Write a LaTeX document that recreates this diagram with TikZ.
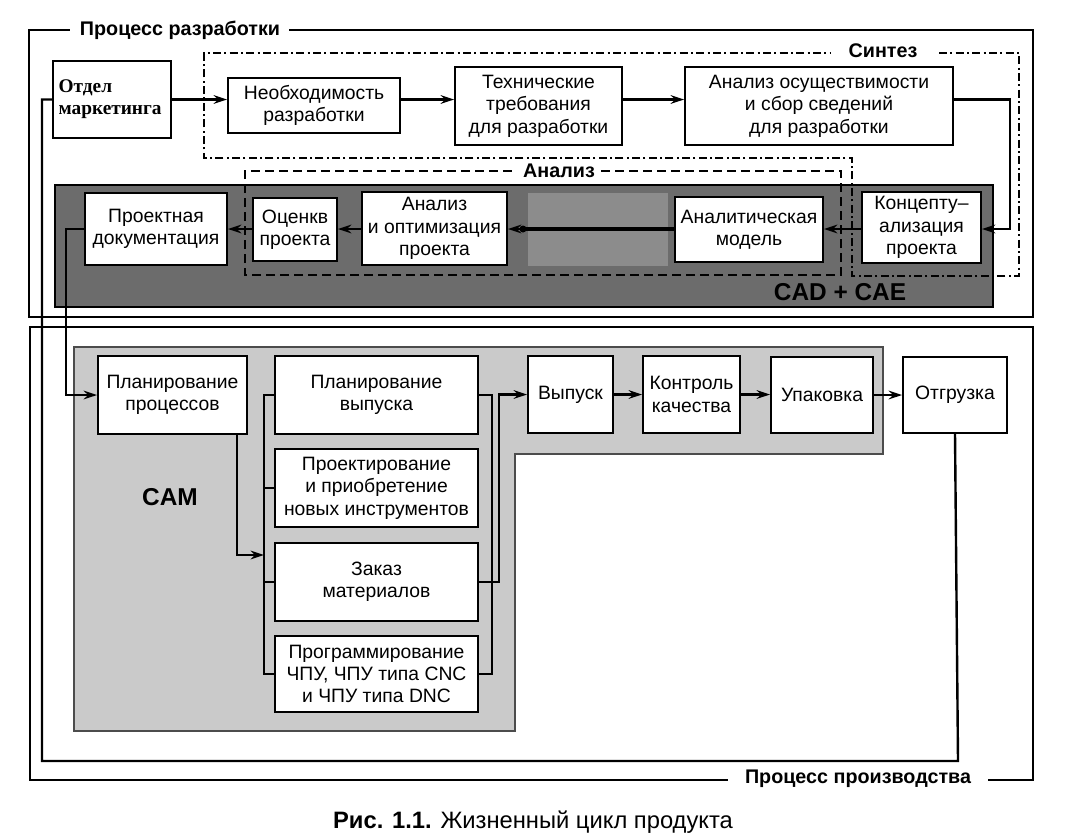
\documentclass[tikz,border=0pt]{standalone}
\usepackage{fontspec}
\setmainfont{Liberation Sans}
\newfontfamily\serifb{Liberation Serif}
\usetikzlibrary{arrows.meta}
\definecolor{cadgray}{RGB}{108,108,108}
\definecolor{camgray}{RGB}{202,202,202}
\definecolor{phgray}{RGB}{140,140,140}
\newcommand\boxfont{\fontsize{14.5pt}{16.8pt}\selectfont}
\newcommand\lblfont{\fontsize{14.8pt}{17pt}\selectfont\bfseries}
\newcommand\bigfont{\fontsize{18.3pt}{20pt}\selectfont\bfseries}
\tikzset{
  box/.style={draw=black, line width=1.4pt, fill=white, align=center, inner sep=2pt, font=\boxfont},
  conn/.style={line width=1.8pt, -{Stealth[length=10pt,width=6.5pt]}},
  wire/.style={line width=1.8pt},
  frame/.style={line width=2.2pt},
  synth/.style={line width=1.5pt, dash pattern=on 6pt off 2.5pt on 1.5pt off 2.5pt},
  anlz/.style={line width=1.5pt, dash pattern=on 7pt off 3.5pt},
  lbl/.style={font=\lblfont, inner sep=0pt},
}
\newcommand\bx[7][]{\node[box,minimum width={(#5-#3)*0.75pt},minimum height={(#6-#4)*0.75pt},#1] (#2) at ({(#3+#5)/2},{(#4+#6)/2}) {#7};}
\begin{document}
\begin{tikzpicture}[x=0.75pt,y=-0.75pt,line join=miter]
\useasboundingbox (0,0) rectangle (1066,839);
% frames
\draw[frame] (289,30) -- (1033,30) -- (1033,317) -- (29,317) -- (29,30) -- (70,30);
\node[lbl] (devlbl) at (180,30) {Процесс разработки};
\draw[frame] (988,780) -- (1033,780) -- (1033,327) -- (30,327) -- (30,780) -- (728,780);
\node[lbl] (prodlbl) at (858,779) {Процесс производства};
% CAD + CAE region
\draw[line width=1.8pt, fill=cadgray] (55,185) rectangle (993,307);
\node[font=\bigfont] (cadlbl) at (840,292) {CAD + CAE};
% CAM region
\draw[line width=1pt, draw=black!70, fill=camgray] (74,347) -- (883,347) -- (883,454) -- (515,454) -- (515,731) -- (74,731) -- cycle;
\node[font=\bigfont] (camlbl) at (170,497) {CAM};
% synthesis and analysis outlines
\draw[synth] (939,53) -- (1019,53) -- (1019,276) -- (852,276) -- (852,158) -- (204,158) -- (204,53) -- (830,53);
\node[lbl] (synlbl) at (883,51) {Синтез};
\draw[anlz] (601,171) -- (841,171) -- (841,275) -- (245,275) -- (245,171) -- (515,171);
\node[lbl] (anllbl) at (559,171) {Анализ};
% boxes, top row
\bx[align=left,text width=80pt,inner xsep=4.2pt,font=\serifb\bfseries\fontsize{14.5pt}{16.5pt}\selectfont]{mark}{53}{61}{171}{138}{Отдел\\маркетинга}
\bx{need}{228}{78}{400}{133}{Необходимость\\разработки}
\bx{tech}{455}{67}{622}{145}{Технические\\требования\\для разработки}
\bx{feas}{685}{67}{953}{145}{Анализ осуществимости\\и сбор сведений\\для разработки}
% second row
\bx{conc}{862}{192}{981}{263}{Концепту–\\ализация\\проекта}
\bx{amod}{675}{197}{823}{262}{Аналитическая\\модель}
\node[fill=phgray, minimum width={140*0.75pt}, minimum height={73*0.75pt}, inner sep=0pt] (ph) at (598,229.5) {};
\bx{anl}{362}{192}{507}{265}{Анализ\\и оптимизация\\проекта}
\bx{est}{253}{198}{337}{261}{Оценкв\\проекта}
\bx{doc}{85}{193}{227}{265}{Проектная\\документация}
% CAM boxes
\bx{pp}{98}{356}{247}{434}{Планирование\\процессов}
\bx{pv}{275}{356}{478}{434}{Планирование\\выпуска}
\bx{pr}{275}{449}{478}{527}{Проектирование\\и приобретение\\новых инструментов}
\bx{zk}{275}{543}{478}{621}{Заказ\\материалов}
\bx{prog}{275}{636}{478}{712}{Программирование\\ЧПУ, ЧПУ типа CNC\\и ЧПУ типа DNC}
\bx{vyp}{528}{356}{613}{433}{Выпуск}
\bx{kk}{643}{356}{740}{433}{Контроль\\качества}
\bx{up}{771}{357}{873}{433}{Упаковка}
\bx{otg}{903}{357}{1007}{433}{Отгрузка}
% coordinates
\coordinate (r1) at (1010,229);
\coordinate (r2) at (0,229);
\coordinate (dotpt) at (523,229);
\coordinate (dl) at (66,229);
\coordinate (loopa) at (958,761);
\coordinate (loopb) at (42,761);
\coordinate (x237) at (237,0);
\coordinate (cl) at (264,0);
\coordinate (cin) at (492,0);
\coordinate (cout) at (499,0);
\coordinate (camin) at (264,555);
% top row connectors
\draw[conn] (mark.east) -- (need.west |- mark.east);
\draw[conn] (need.east |- mark.east) -- (tech.west |- mark.east);
\draw[conn] (tech.east |- mark.east) -- (feas.west |- mark.east);
\draw[conn] (feas.east |- mark.east) -| (r1) -- (conc.east |- r1);
% second row connectors
\draw[conn] (conc.west |- r2) -- (amod.east |- r2);
\draw[conn] (ph.west |- r2) -- (anl.east |- r2);
\draw[line width=2.6pt] (amod.west |- r2) -- (dotpt);
\fill (dotpt) circle (3.5);
\draw[conn] (anl.west |- r2) -- (est.east |- r2);
\draw[conn] (est.west |- r2) -- (doc.east |- r2);
\draw[conn] (doc.west |- r2) -- (dl) |- (pp.west);
% CAM connectors
\draw[wire] (pv.west) -- (pv.west -| cl) -- (prog.west -| cl) -- (prog.west);
\draw[wire] (pr.west) -- (pr.west -| cl);
\draw[wire] (zk.west) -- (zk.west -| cl);
\draw[conn] (pp.south -| x237) |- (camin);
\draw[wire] (pv.east) -- (pv.east -| cin) -- (prog.east -| cin) -- (prog.east);
\draw[conn] (zk.east) -- (zk.east -| cout) -- (vyp.west -| cout) -- (vyp.west);
\draw[conn] (vyp.east) -- (kk.west);
\draw[conn] (kk.east) -- (up.west |- kk.east);
\draw[conn] (up.east) -- (otg.west |- up.east);
% return loop
\draw[wire] (otg.south) -- (loopa) -- (loopb) |- (mark.west);
% caption
\node[font=\fontsize{17.8pt}{20pt}\selectfont] (cap) at (533,822) {\textbf{Рис. 1.1.} Жизненный цикл продукта};
\end{tikzpicture}
\end{document}
